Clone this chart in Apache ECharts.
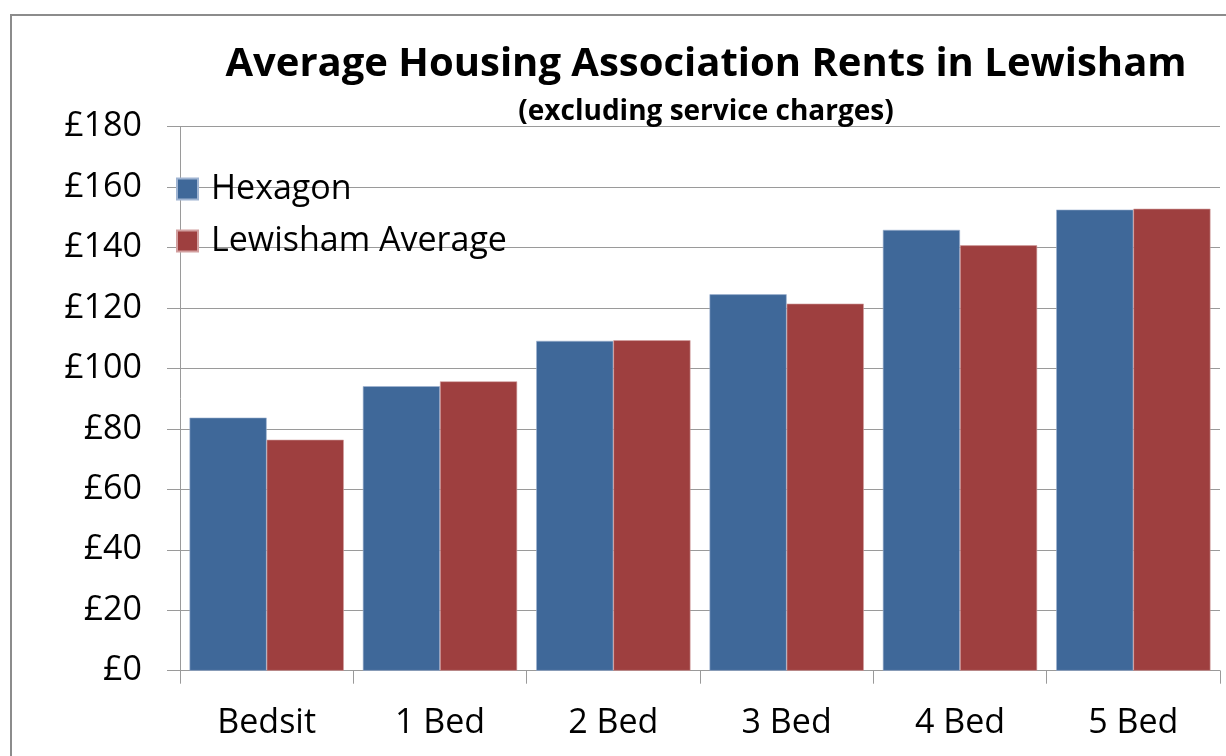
<!DOCTYPE html>
<html>
<head>
<meta charset="utf-8">
<script src="https://cdn.jsdelivr.net/npm/echarts@6/dist/echarts.min.js"></script>
<style>
  html, body { margin: 0; padding: 0; background: #fff; overflow: hidden; }
  #chart { width: 1226px; height: 756px; }
</style>
</head>
<body>
<div id="chart"></div>
<script>
// data
const categories = ['Bedsit', '1 Bed', '2 Bed', '3 Bed', '4 Bed', '5 Bed'];
const hexagon = [83.7, 94.1, 109.1, 124.5, 145.8, 152.5];
const lewishamAvg = [76.4, 95.7, 109.3, 121.4, 140.7, 152.8];
const seriesNames = ['Hexagon', 'Lewisham Average'];
const titleText = 'Average Housing Association Rents in Lewisham';
const subText = '(excluding service charges)';

const font = '"Open Sans", sans-serif';

const chart = echarts.init(document.getElementById('chart'));

const option = {
  animation: false,
  backgroundColor: '#fff',
  textStyle: { fontFamily: font },
  title: {
    text: titleText,
    subtext: subText,
    left: 701,
    top: 40,
    textAlign: 'center',
    itemGap: 13,
    textStyle: { fontSize: 40, fontWeight: 'bold', color: '#000', fontFamily: font },
    subtextStyle: { fontSize: 28, fontWeight: 'bold', color: '#000', fontFamily: font }
  },
  graphic: [{
    type: 'rect',
    shape: { x: 11, y: 15, width: 1400, height: 900 },
    style: { fill: 'none', stroke: '#8c8c8c', lineWidth: 2 },
    silent: true
  }],
  legend: {
    orient: 'vertical',
    left: 171,
    top: 167,
    itemWidth: 21,
    itemHeight: 21,
    itemGap: 18,
    icon: 'rect',
    textStyle: { fontSize: 34, color: '#000', fontFamily: font, padding: [0, 0, 0, 8] },
    data: seriesNames
  },
  grid: { left: 180, right: 6, top: 126.5, bottom: 85.3 },
  xAxis: {
    type: 'category',
    data: categories,
    axisLine: { lineStyle: { color: '#9a9a9a', width: 1 } },
    axisTick: { show: true, length: 13, lineStyle: { color: '#9a9a9a' } },
    axisLabel: { fontSize: 34, color: '#000', margin: 36, fontFamily: font }
  },
  yAxis: {
    type: 'value',
    min: 0,
    max: 180,
    interval: 20,
    axisLine: { show: true, lineStyle: { color: '#9a9a9a', width: 1 } },
    axisTick: { show: true, length: 13, lineStyle: { color: '#9a9a9a' } },
    splitLine: { lineStyle: { color: '#9a9a9a', width: 1 } },
    axisLabel: { fontSize: 34, color: '#000', margin: 38, formatter: '£{value}', fontFamily: font }
  },
  series: [
    {
      name: seriesNames[0],
      type: 'bar',
      data: hexagon,
      barGap: '0%',
      barCategoryGap: '11%',
      itemStyle: { color: '#3f6899', borderColor: '#9fb4d2', borderWidth: 0.6 }
    },
    {
      name: seriesNames[1],
      type: 'bar',
      data: lewishamAvg,
      barGap: '0%',
      barCategoryGap: '11%',
      itemStyle: { color: '#9e3f3f', borderColor: '#d29f9f', borderWidth: 0.6 }
    }
  ]
};

chart.setOption(option);
</script>
</body>
</html>
